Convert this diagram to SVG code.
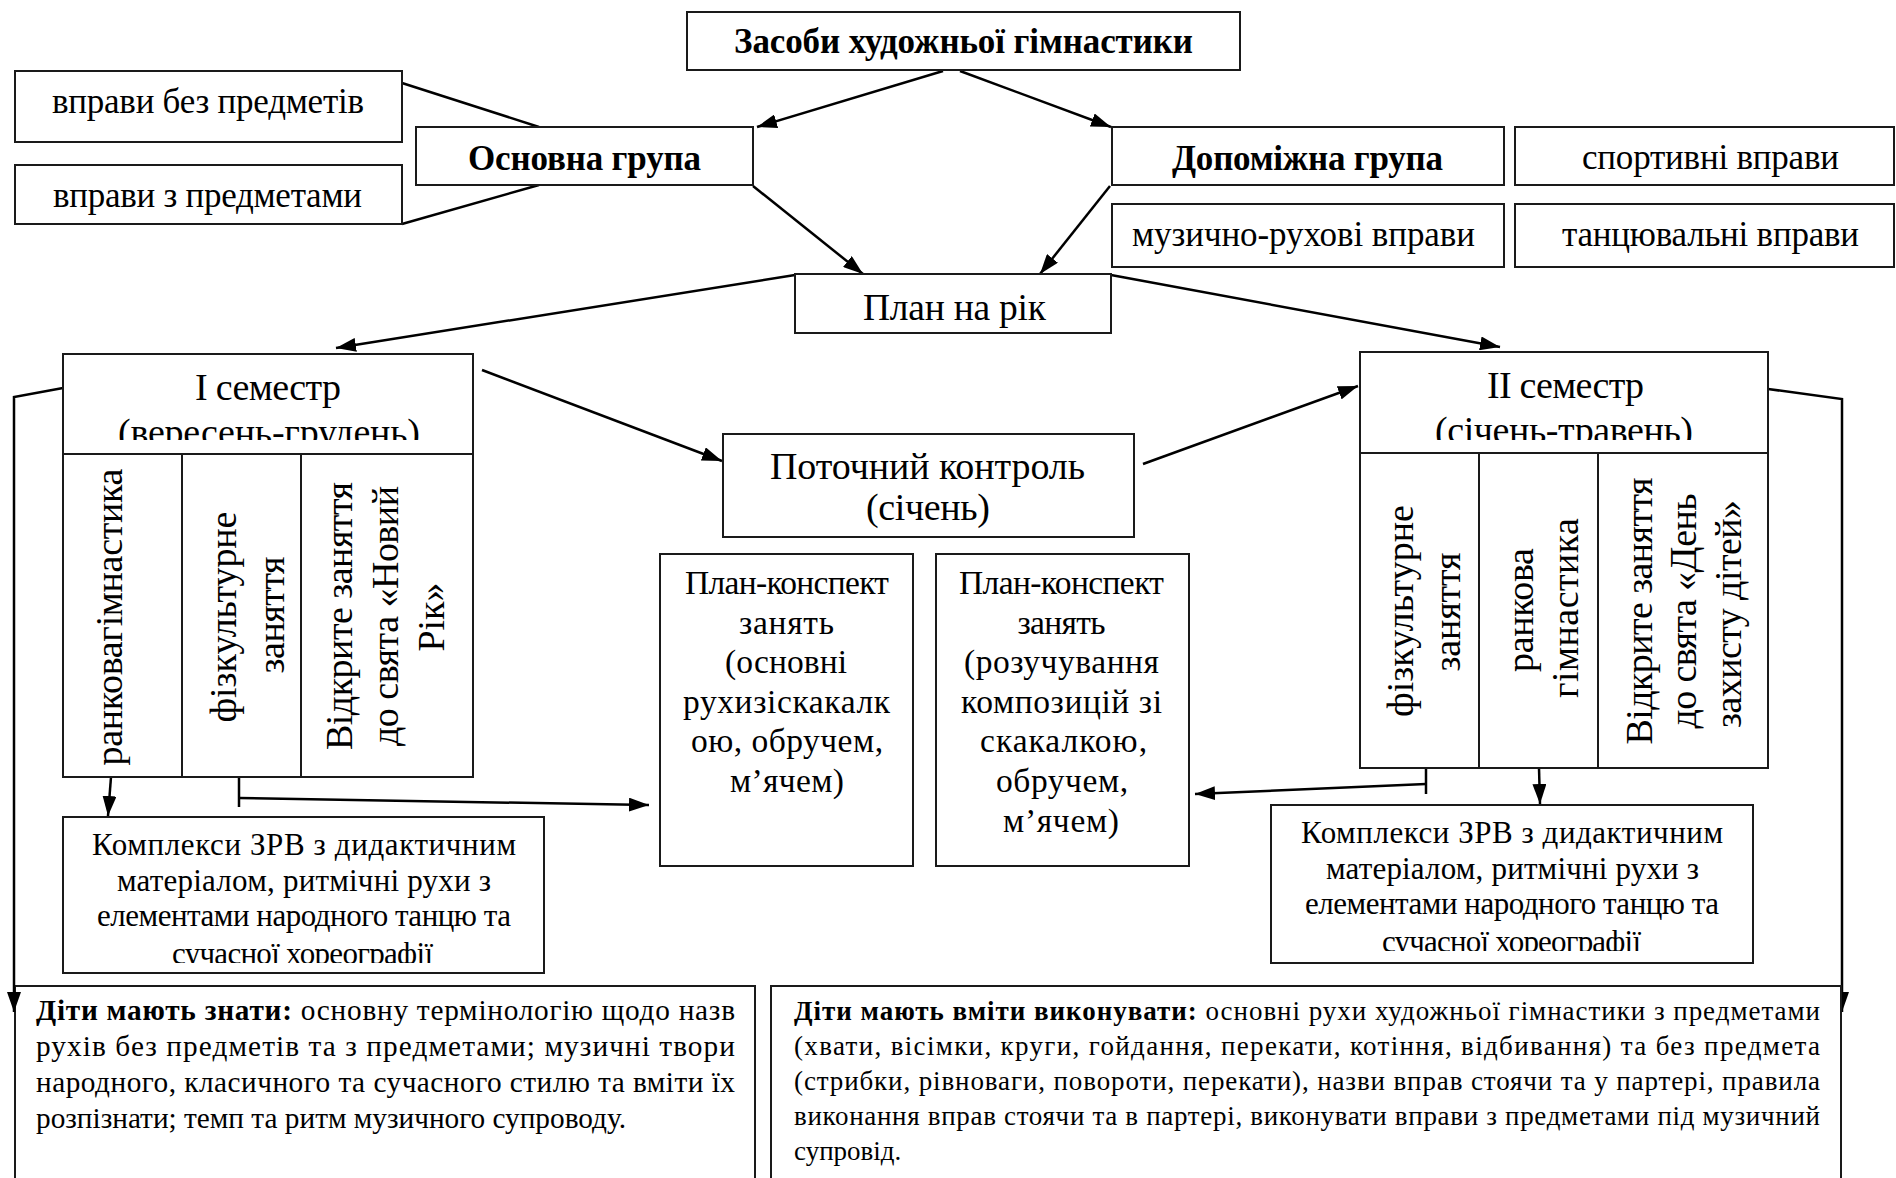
<svg xmlns="http://www.w3.org/2000/svg" width="1896" height="1178" viewBox="0 0 1896 1178">
<style>
text{font-family:"Liberation Serif","Times New Roman",serif;fill:#000}
.box{fill:#fff;stroke:#1a1a1a;stroke-width:2}
.ln{fill:none;stroke:#000;stroke-width:2.5}
.c{text-anchor:middle}
.b{font-weight:bold}
.t35{font-size:35px}
.t38{font-size:38px}
.pk{font-size:33.5px}
.kp{font-size:31px}
.bl{font-size:29.3px}
.br{font-size:27px}
</style>
<defs>
<marker id="ah" viewBox="0 0 20 14" refX="20" refY="7" markerWidth="20" markerHeight="14" markerUnits="userSpaceOnUse" orient="auto">
<path d="M0,0 L20,7 L0,14 z" fill="#000"/>
</marker>
<clipPath id="c1"><rect x="63" y="354" width="410" height="86"/></clipPath>
<clipPath id="c2"><rect x="1360" y="352" width="408" height="88"/></clipPath>
<clipPath id="c3"><rect x="63" y="817" width="481" height="146"/></clipPath>
<clipPath id="c4"><rect x="1271" y="805" width="482" height="146"/></clipPath>
</defs>

<g id="n-know">
<rect class="box" x="15" y="986" width="740" height="210"/>
<text class="bl" x="36" y="1020" textLength="699" lengthAdjust="spacing"><tspan class="b">Діти мають знати:</tspan> основну термінологію щодо назв</text>
<text class="bl" x="36" y="1056" textLength="699" lengthAdjust="spacing">рухів без предметів та з предметами; музичні твори</text>
<text class="bl" x="36" y="1092" textLength="699" lengthAdjust="spacing">народного, класичного та сучасного стилю та вміти їх</text>
<text class="bl" x="36" y="1128" textLength="590" lengthAdjust="spacing">розпізнати; темп та ритм музичного супроводу.</text>
</g>

<g id="connectors">
<line class="ln" x1="402" y1="83" x2="539" y2="127"/>
<line class="ln" x1="402" y1="224" x2="539" y2="185"/>
<line class="ln" x1="943" y1="71" x2="757" y2="127" marker-end="url(#ah)"/>
<line class="ln" x1="960" y1="71" x2="1111" y2="127" marker-end="url(#ah)"/>
<line class="ln" x1="753" y1="186" x2="863" y2="274" marker-end="url(#ah)"/>
<line class="ln" x1="1110" y1="186" x2="1040" y2="274" marker-end="url(#ah)"/>
<line class="ln" x1="795" y1="275" x2="336" y2="348" marker-end="url(#ah)"/>
<line class="ln" x1="1111" y1="275" x2="1500" y2="347" marker-end="url(#ah)"/>
<line class="ln" x1="482" y1="370" x2="722" y2="461" marker-end="url(#ah)"/>
<line class="ln" x1="1143" y1="464" x2="1358" y2="386" marker-end="url(#ah)"/>
<line class="ln" x1="111" y1="777" x2="108" y2="816" marker-end="url(#ah)"/>
<line class="ln" x1="239" y1="777" x2="239" y2="807"/>
<line class="ln" x1="239" y1="798" x2="649" y2="805" marker-end="url(#ah)"/>
<line class="ln" x1="1426" y1="768" x2="1426" y2="794"/>
<line class="ln" x1="1426" y1="784" x2="1195" y2="794" marker-end="url(#ah)"/>
<line class="ln" x1="1539" y1="768" x2="1540" y2="804" marker-end="url(#ah)"/>
<polyline class="ln" points="63,388 14,397 14,1012" marker-end="url(#ah)"/>
<polyline class="ln" points="1768,389 1842,399 1842,1012" marker-end="url(#ah)"/>
</g>

<g id="n-skill">
<rect class="box" x="771" y="986" width="1070" height="210"/>
<text class="br" x="794" y="1020" textLength="1026" lengthAdjust="spacing"><tspan class="b">Діти мають вміти виконувати:</tspan> основні рухи художньої гімнастики з предметами</text>
<text class="br" x="794" y="1055" textLength="1026" lengthAdjust="spacing">(хвати, вісімки, круги, гойдання, перекати, котіння, відбивання) та без предмета</text>
<text class="br" x="794" y="1090" textLength="1026" lengthAdjust="spacing">(стрибки, рівноваги, повороти, перекати), назви вправ стоячи та у партері, правила</text>
<text class="br" x="794" y="1125" textLength="1026" lengthAdjust="spacing">виконання вправ стоячи та в партері, виконувати вправи з предметами під музичний</text>
<text class="br" x="794" y="1160">супровід.</text>
</g>

<g id="n-root">
<rect class="box" x="687" y="12" width="553" height="58"/>
<text class="c b t35" x="963.5" y="53" textLength="459" lengthAdjust="spacing">Засоби художньої гімнастики</text>
</g>
<g id="n-bez">
<rect class="box" x="15" y="71" width="387" height="71"/>
<text class="c t35" x="208" y="113" textLength="312" lengthAdjust="spacing">вправи без предметів</text>
</g>
<g id="n-z">
<rect class="box" x="15" y="165" width="387" height="59"/>
<text class="c t35" x="207.5" y="207" textLength="309" lengthAdjust="spacing">вправи з предметами</text>
</g>
<g id="n-osn">
<rect class="box" x="416" y="127" width="337" height="58"/>
<text class="c b t35" x="584.5" y="170" textLength="233" lengthAdjust="spacing">Основна група</text>
</g>
<g id="n-dop">
<rect class="box" x="1112" y="127" width="392" height="58"/>
<text class="c b t35" x="1307.5" y="170" textLength="271" lengthAdjust="spacing">Допоміжна група</text>
</g>
<g id="n-sport">
<rect class="box" x="1515" y="127" width="379" height="58"/>
<text class="c t35" x="1710.5" y="169" textLength="257" lengthAdjust="spacing">спортивні вправи</text>
</g>
<g id="n-muz">
<rect class="box" x="1112" y="204" width="392" height="63"/>
<text class="c t35" x="1303.5" y="246" textLength="343" lengthAdjust="spacing">музично-рухові вправи</text>
</g>
<g id="n-tanc">
<rect class="box" x="1515" y="204" width="379" height="63"/>
<text class="c t35" x="1710.5" y="246" textLength="297" lengthAdjust="spacing">танцювальні вправи</text>
</g>
<g id="n-plan">
<rect class="box" x="795" y="274" width="316" height="59"/>
<text class="c" x="954.5" y="320" font-size="37.5" textLength="183" lengthAdjust="spacing">План на рік</text>
</g>

<g id="n-sem1">
<rect class="box" x="63" y="354" width="410" height="423"/>
<line class="box" x1="63" y1="454" x2="473" y2="454"/>
<line class="box" x1="182" y1="454" x2="182" y2="777"/>
<line class="box" x1="301" y1="454" x2="301" y2="777"/>
<g clip-path="url(#c1)">
<text class="c t38" x="268" y="400" textLength="146" lengthAdjust="spacing">I семестр</text>
<text class="c t38" x="269" y="445" textLength="302" lengthAdjust="spacing">(вересень-грудень)</text>
</g>
<text class="c t38" transform="translate(122,617) rotate(-90)" textLength="297" lengthAdjust="spacing">ранковагімнастика</text>
<text class="c t38" transform="translate(236,617) rotate(-90)" textLength="211" lengthAdjust="spacing">фізкультурне</text>
<text class="c t38" transform="translate(284,615) rotate(-90)" textLength="117" lengthAdjust="spacing">заняття</text>
<text class="c t38" transform="translate(352,616) rotate(-90)" textLength="268" lengthAdjust="spacing">Відкрите заняття</text>
<text class="c t38" transform="translate(398,616) rotate(-90)" textLength="260" lengthAdjust="spacing">до свята «Новий</text>
<text class="c t38" transform="translate(444,617) rotate(-90)">Рік»</text>
</g>

<g id="n-sem2">
<rect class="box" x="1360" y="352" width="408" height="416"/>
<line class="box" x1="1360" y1="453" x2="1768" y2="453"/>
<line class="box" x1="1479" y1="453" x2="1479" y2="768"/>
<line class="box" x1="1598" y1="453" x2="1598" y2="768"/>
<g clip-path="url(#c2)">
<text class="c t38" x="1565.5" y="398" textLength="157" lengthAdjust="spacing">II семестр</text>
<text class="c t38" x="1564" y="443" textLength="258" lengthAdjust="spacing">(січень-травень)</text>
</g>
<text class="c t38" transform="translate(1413,611) rotate(-90)" textLength="212" lengthAdjust="spacing">фізкультурне</text>
<text class="c t38" transform="translate(1460,612) rotate(-90)" textLength="119" lengthAdjust="spacing">заняття</text>
<text class="c t38" transform="translate(1533,610) rotate(-90)" textLength="124" lengthAdjust="spacing">ранкова</text>
<text class="c t38" transform="translate(1578,608) rotate(-90)" textLength="180" lengthAdjust="spacing">гімнастика</text>
<text class="c t38" transform="translate(1652,611) rotate(-90)" textLength="267" lengthAdjust="spacing">Відкрите заняття</text>
<text class="c t38" transform="translate(1696,611) rotate(-90)" textLength="235" lengthAdjust="spacing">до свята «День</text>
<text class="c t38" transform="translate(1741,614) rotate(-90)" textLength="228" lengthAdjust="spacing">захисту дітей»</text>
</g>

<g id="n-control">
<rect class="box" x="723" y="434" width="411" height="103"/>
<text class="c t38" x="927.5" y="479" textLength="315" lengthAdjust="spacing">Поточний контроль</text>
<text class="c t38" x="928" y="520" textLength="124" lengthAdjust="spacing">(січень)</text>
</g>

<g id="n-pk1">
<rect class="box" x="660" y="554" width="253" height="312"/>
<text class="c pk" x="787" y="594" textLength="204" lengthAdjust="spacing">План-конспект</text>
<text class="c pk" x="786.5" y="633.6" textLength="95" lengthAdjust="spacing">занять</text>
<text class="c pk" x="786" y="673.2" textLength="122" lengthAdjust="spacing">(основні</text>
<text class="c pk" x="786.5" y="712.8" textLength="207" lengthAdjust="spacing">рухизіскакалк</text>
<text class="c pk" x="787" y="752.4" textLength="192" lengthAdjust="spacing">ою, обручем,</text>
<text class="c pk" x="787" y="792" textLength="114" lengthAdjust="spacing">м’ячем)</text>
</g>
<g id="n-pk2">
<rect class="box" x="936" y="554" width="253" height="312"/>
<text class="c pk" x="1061.5" y="594" textLength="205" lengthAdjust="spacing">План-конспект</text>
<text class="c pk" x="1061.5" y="633.6" textLength="88" lengthAdjust="spacing">занять</text>
<text class="c pk" x="1061.5" y="673.2" textLength="195" lengthAdjust="spacing">(розучування</text>
<text class="c pk" x="1061.5" y="712.8" textLength="201" lengthAdjust="spacing">композицій зі</text>
<text class="c pk" x="1063.5" y="752.4" textLength="167" lengthAdjust="spacing">скакалкою,</text>
<text class="c pk" x="1062" y="792" textLength="132" lengthAdjust="spacing">обручем,</text>
<text class="c pk" x="1061" y="831.6" textLength="116" lengthAdjust="spacing">м’ячем)</text>
</g>

<g id="n-kompl1">
<rect class="box" x="63" y="817" width="481" height="156"/>
<g clip-path="url(#c3)">
<text class="c kp" x="304" y="855" textLength="424" lengthAdjust="spacing">Комплекси ЗРВ з дидактичним</text>
<text class="c kp" x="304" y="891" textLength="374" lengthAdjust="spacing">матеріалом, ритмічні рухи з</text>
<text class="c kp" x="304" y="926" textLength="414" lengthAdjust="spacing">елементами народного танцю та</text>
<text class="c kp" x="302.5" y="964" textLength="261" lengthAdjust="spacing">сучасної хореографії</text>
</g>
</g>
<g id="n-kompl2">
<rect class="box" x="1271" y="805" width="482" height="158"/>
<g clip-path="url(#c4)">
<text class="c kp" x="1512" y="843" textLength="422" lengthAdjust="spacing">Комплекси ЗРВ з дидактичним</text>
<text class="c kp" x="1512.5" y="879" textLength="373" lengthAdjust="spacing">матеріалом, ритмічні рухи з</text>
<text class="c kp" x="1512" y="914" textLength="414" lengthAdjust="spacing">елементами народного танцю та</text>
<text class="c kp" x="1511.5" y="952" textLength="259" lengthAdjust="spacing">сучасної хореографії</text>
</g>
</g>
</svg>
